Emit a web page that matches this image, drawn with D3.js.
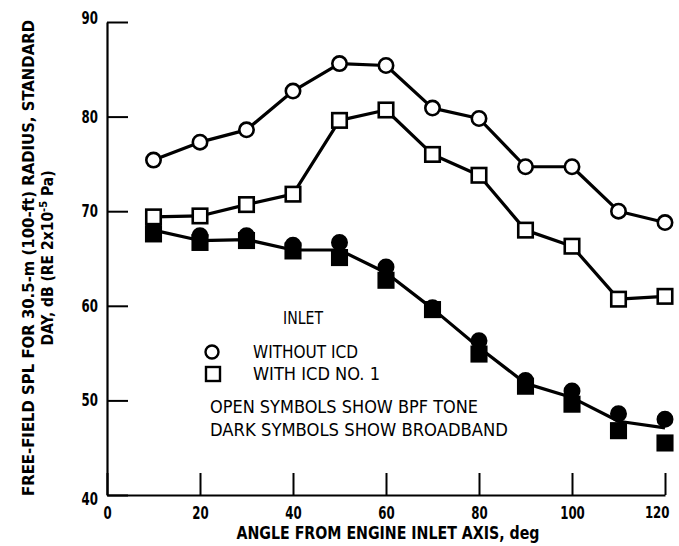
<!DOCTYPE html>
<html>
<head>
<meta charset="utf-8">
<script src="https://cdn.jsdelivr.net/npm/d3@7/dist/d3.min.js"></script>
<style>
  html, body { margin: 0; padding: 0; background: #fff; }
  svg { display: block; }
  text { font-family: "Liberation Sans Narrow", "DejaVu Sans Condensed", "Roboto Condensed", sans-serif; fill: #000; }
</style>
</head>
<body>
<svg id="chart" width="679" height="546"></svg>
<script>
// Directivity of inlet fan noise, 30.5-m radius, standard day
const angles = [10, 20, 30, 40, 50, 60, 70, 80, 90, 100, 110, 120];

// BPF tone (open symbols)
const toneWithoutICD = [75.4, 77.3, 78.6, 82.7, 85.6, 85.4, 80.9, 79.8, 74.7, 74.7, 70.0, 68.8];
const toneWithICD1   = [69.4, 69.5, 70.7, 71.8, 79.6, 80.7, 76.0, 73.8, 68.0, 66.3, 60.7, 61.0];

// Broadband (dark symbols) and the single faired curve through them
const broadWithoutICD = [68.3, 67.4, 67.4, 66.4, 66.7, 64.1, 59.8, 56.3, 52.1, 51.0, 48.6, 48.0];
const broadWithICD1   = [67.6, 66.7, 66.9, 65.8, 65.1, 62.7, 59.6, 54.9, 51.5, 49.6, 46.8, 45.5];
const broadbandCurve  = [68.0, 66.9, 67.0, 65.9, 65.9, 63.5, 59.7, 55.6, 51.8, 50.3, 47.8, 47.1];

const xTicks = [0, 20, 40, 60, 80, 100, 120];
const yTicks = [40, 50, 60, 70, 80, 90];

const xTitle = "ANGLE FROM ENGINE INLET AXIS, deg";
const yTitle1 = "FREE-FIELD SPL FOR 30.5-m (100-ft) RADIUS, STANDARD";
const legendTitle = "INLET";
const legendItems = ["WITHOUT ICD", "WITH ICD NO. 1"];
const noteLines = ["OPEN SYMBOLS SHOW BPF TONE", "DARK SYMBOLS SHOW BROADBAND"];

const svg = d3.select("#chart");
const x = d3.scaleLinear().domain([0, 120]).range([107, 665]);
const y = d3.scaleLinear().domain([40, 90]).range([495, 22]);

// Axes: ticks point inward, no top/right frame
const gx = svg.append("g")
  .attr("transform", `translate(0,${y(40)})`)
  .call(d3.axisBottom(x).tickValues(xTicks).tickSizeInner(-22).tickSizeOuter(0).tickPadding(8)
    .tickFormat(d3.format("d")));
const gy = svg.append("g")
  .attr("transform", `translate(${x(0)},0)`)
  .call(d3.axisLeft(y).tickValues(yTicks).tickSizeInner(-21).tickSizeOuter(0).tickPadding(9)
    .tickFormat(d3.format("d")));

[gx, gy].forEach(g => {
  g.select(".domain").attr("stroke", "#000").attr("stroke-width", 2.2);
  g.selectAll(".tick line").attr("stroke", "#000").attr("stroke-width", 2);
  g.selectAll(".tick text")
    .attr("font-family", "\"Liberation Sans Narrow\", \"DejaVu Sans Condensed\", sans-serif")
    .attr("font-size", 17).attr("font-weight", "bold").attr("fill", "#000")
    .attr("lengthAdjust", "spacingAndGlyphs")
    .attr("textLength", d => String(d).length * 8.2);
});
gx.selectAll(".tick text").attr("dy", "0.95em");
// last label kept inside the right edge
gx.selectAll(".tick text").filter(d => d === 120)
  .attr("text-anchor", "end").attr("x", 4).attr("font-size", 16);
gy.selectAll(".tick text").filter(d => d === 40).attr("dy", "0.55em");
gy.selectAll(".tick text").filter(d => d === 90).attr("dy", "0.1em");

// Axis titles
svg.append("text")
  .attr("x", 388).attr("y", 539)
  .attr("text-anchor", "middle")
  .attr("font-size", 17).attr("font-weight", "bold")
  .attr("textLength", 303).attr("lengthAdjust", "spacingAndGlyphs")
  .text(xTitle);

const yt = svg.append("g").attr("transform", "translate(0,258) rotate(-90)");
yt.append("text")
  .attr("x", 0).attr("y", 34)
  .attr("text-anchor", "middle")
  .attr("font-size", 15.5).attr("font-weight", "bold")
  .attr("textLength", 476).attr("lengthAdjust", "spacingAndGlyphs")
  .text(yTitle1);
const yt2 = yt.append("text")
  .attr("x", 0).attr("y", 53)
  .attr("text-anchor", "middle")
  .attr("font-size", 15.5).attr("font-weight", "bold");
yt2.append("tspan").text("DAY, dB (RE 2x10");
yt2.append("tspan").attr("dy", -6).attr("font-size", 11).text("-5");
yt2.append("tspan").attr("dy", 6).text(" Pa)");

// Lines
const line = d3.line().x((d, i) => x(angles[i])).y(d => y(d));
const plot = svg.append("g");
[broadbandCurve, toneWithICD1, toneWithoutICD].forEach(series => {
  plot.append("path").datum(series)
    .attr("d", line)
    .attr("fill", "none").attr("stroke", "#000").attr("stroke-width", 3.2)
    .attr("stroke-linejoin", "round");
});

const R = 7.2, S = 14.5;
function circles(series, filled) {
  plot.append("g").selectAll("circle").data(series).join("circle")
    .attr("cx", (d, i) => x(angles[i])).attr("cy", d => y(d)).attr("r", R)
    .attr("fill", filled ? "#000" : "#fff").attr("stroke", "#000").attr("stroke-width", 2.6);
}
function squares(series, filled) {
  plot.append("g").selectAll("rect").data(series).join("rect")
    .attr("x", (d, i) => x(angles[i]) - S / 2).attr("y", d => y(d) - S / 2)
    .attr("width", S).attr("height", S)
    .attr("fill", filled ? "#000" : "#fff").attr("stroke", "#000").attr("stroke-width", 2.6);
}
squares(broadWithICD1, true);
circles(broadWithoutICD, true);
squares(toneWithICD1, false);
circles(toneWithoutICD, false);

// Legend
const lg = svg.append("g");
lg.append("text").attr("x", 303).attr("y", 318).attr("dy", "0.35em")
  .attr("text-anchor", "middle").attr("font-size", 17)
  .attr("textLength", 40).attr("lengthAdjust", "spacingAndGlyphs")
  .text(legendTitle);
lg.append("circle").attr("cx", 212).attr("cy", 352).attr("r", 6.5)
  .attr("fill", "#fff").attr("stroke", "#000").attr("stroke-width", 2.4);
lg.append("rect").attr("x", 206).attr("y", 367).attr("width", 14).attr("height", 14)
  .attr("fill", "#fff").attr("stroke", "#000").attr("stroke-width", 2.4);
const itemY = [352, 374], itemLen = [105, 127];
legendItems.forEach((t, i) => {
  lg.append("text").attr("x", 253).attr("y", itemY[i]).attr("dy", "0.35em")
    .attr("font-size", 17).attr("textLength", itemLen[i]).attr("lengthAdjust", "spacingAndGlyphs")
    .text(t);
});
const noteY = [407, 430], noteLen = [268, 298];
noteLines.forEach((t, i) => {
  lg.append("text").attr("x", 210).attr("y", noteY[i]).attr("dy", "0.35em")
    .attr("font-size", 17).attr("textLength", noteLen[i]).attr("lengthAdjust", "spacingAndGlyphs")
    .text(t);
});
</script>
</body>
</html>
